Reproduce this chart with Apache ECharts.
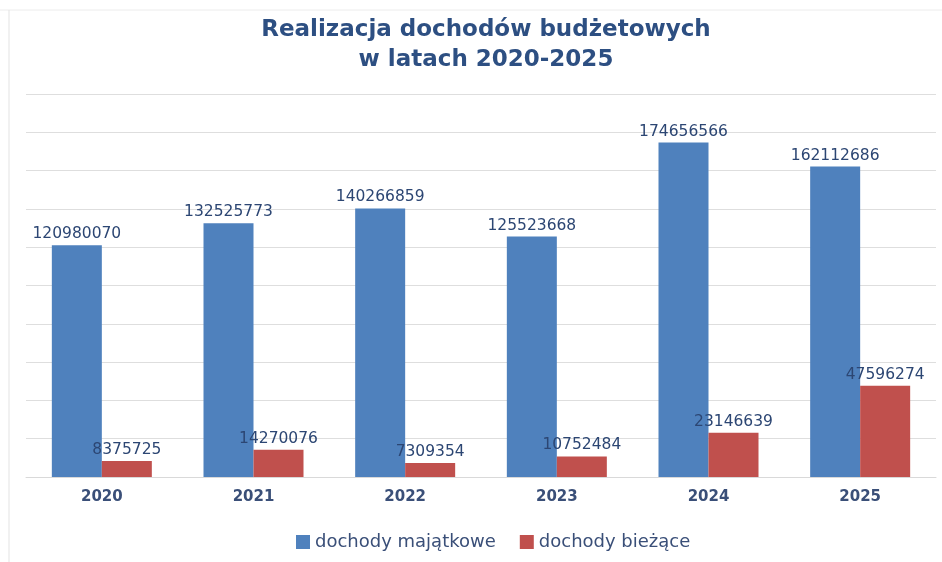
<!DOCTYPE html>
<html>
<head>
<meta charset="utf-8">
<script src="https://cdn.jsdelivr.net/npm/echarts@6/dist/echarts.min.js"></script>
<style>
  html, body { margin: 0; padding: 0; background: #fff; }
  #chart { width: 942px; height: 562px; }
</style>
</head>
<body>
<div id="chart"></div>
<script>
// dane
const years = ['2020', '2021', '2022', '2023', '2024', '2025'];
const majatkowe = [120980070, 132525773, 140266859, 125523668, 174656566, 162112686];
const biezace = [8375725, 14270076, 7309354, 10752484, 23146639, 47596274];

const chart = echarts.init(document.getElementById('chart'));

const labelStyle = {
  show: true,
  position: 'top',
  distance: 3,
  color: '#2c4673',
  fontFamily: 'DejaVu Sans',
  fontSize: 15.5
};

chart.setOption({
  animation: false,
  title: {
    text: 'Realizacja dochodów budżetowych\nw latach 2020-2025',
    left: 481,
    top: 10,
    textAlign: 'center',
    textStyle: {
      fontFamily: 'DejaVu Sans',
      fontWeight: 'bold',
      fontSize: 23,
      lineHeight: 30,
      color: '#2d4f82'
    }
  },
  graphic: [
    { type: 'line', shape: { x1: 0, y1: 10, x2: 942, y2: 10 }, style: { stroke: '#ececec', lineWidth: 1 } },
    { type: 'line', shape: { x1: 9, y1: 10, x2: 9, y2: 562 }, style: { stroke: '#e3e3e3', lineWidth: 1 } }
  ],
  legend: {
    bottom: 6,
    left: 291,
    icon: 'rect',
    itemWidth: 14,
    itemHeight: 14,
    itemGap: 24,
    textStyle: { fontFamily: 'DejaVu Sans', fontSize: 18, color: '#3a4f78' },
    data: ['dochody majątkowe', 'dochody bieżące']
  },
  grid: { left: 26, right: 6, top: 94, bottom: 85 },
  xAxis: {
    type: 'category',
    data: years,
    axisLine: { lineStyle: { color: '#d9d9d9' } },
    axisTick: { show: false },
    axisLabel: {
      color: '#3a4f78',
      fontFamily: 'DejaVu Sans',
      fontWeight: 'bold',
      fontSize: 15,
      margin: 13
    }
  },
  yAxis: {
    type: 'value',
    min: 0,
    max: 200000000,
    interval: 20000000,
    axisLabel: { show: false },
    axisLine: { show: false },
    axisTick: { show: false },
    splitLine: { lineStyle: { color: '#dedede', width: 1 } }
  },
  series: [
    {
      name: 'dochody majątkowe',
      type: 'bar',
      data: majatkowe,
      barWidth: 50,
      barGap: '0%',
      itemStyle: { color: '#4f81bd' },
      label: labelStyle
    },
    {
      name: 'dochody bieżące',
      type: 'bar',
      data: biezace,
      barWidth: 50,
      barGap: '0%',
      itemStyle: { color: '#c0504d' },
      label: labelStyle
    }
  ]
});
</script>
</body>
</html>
